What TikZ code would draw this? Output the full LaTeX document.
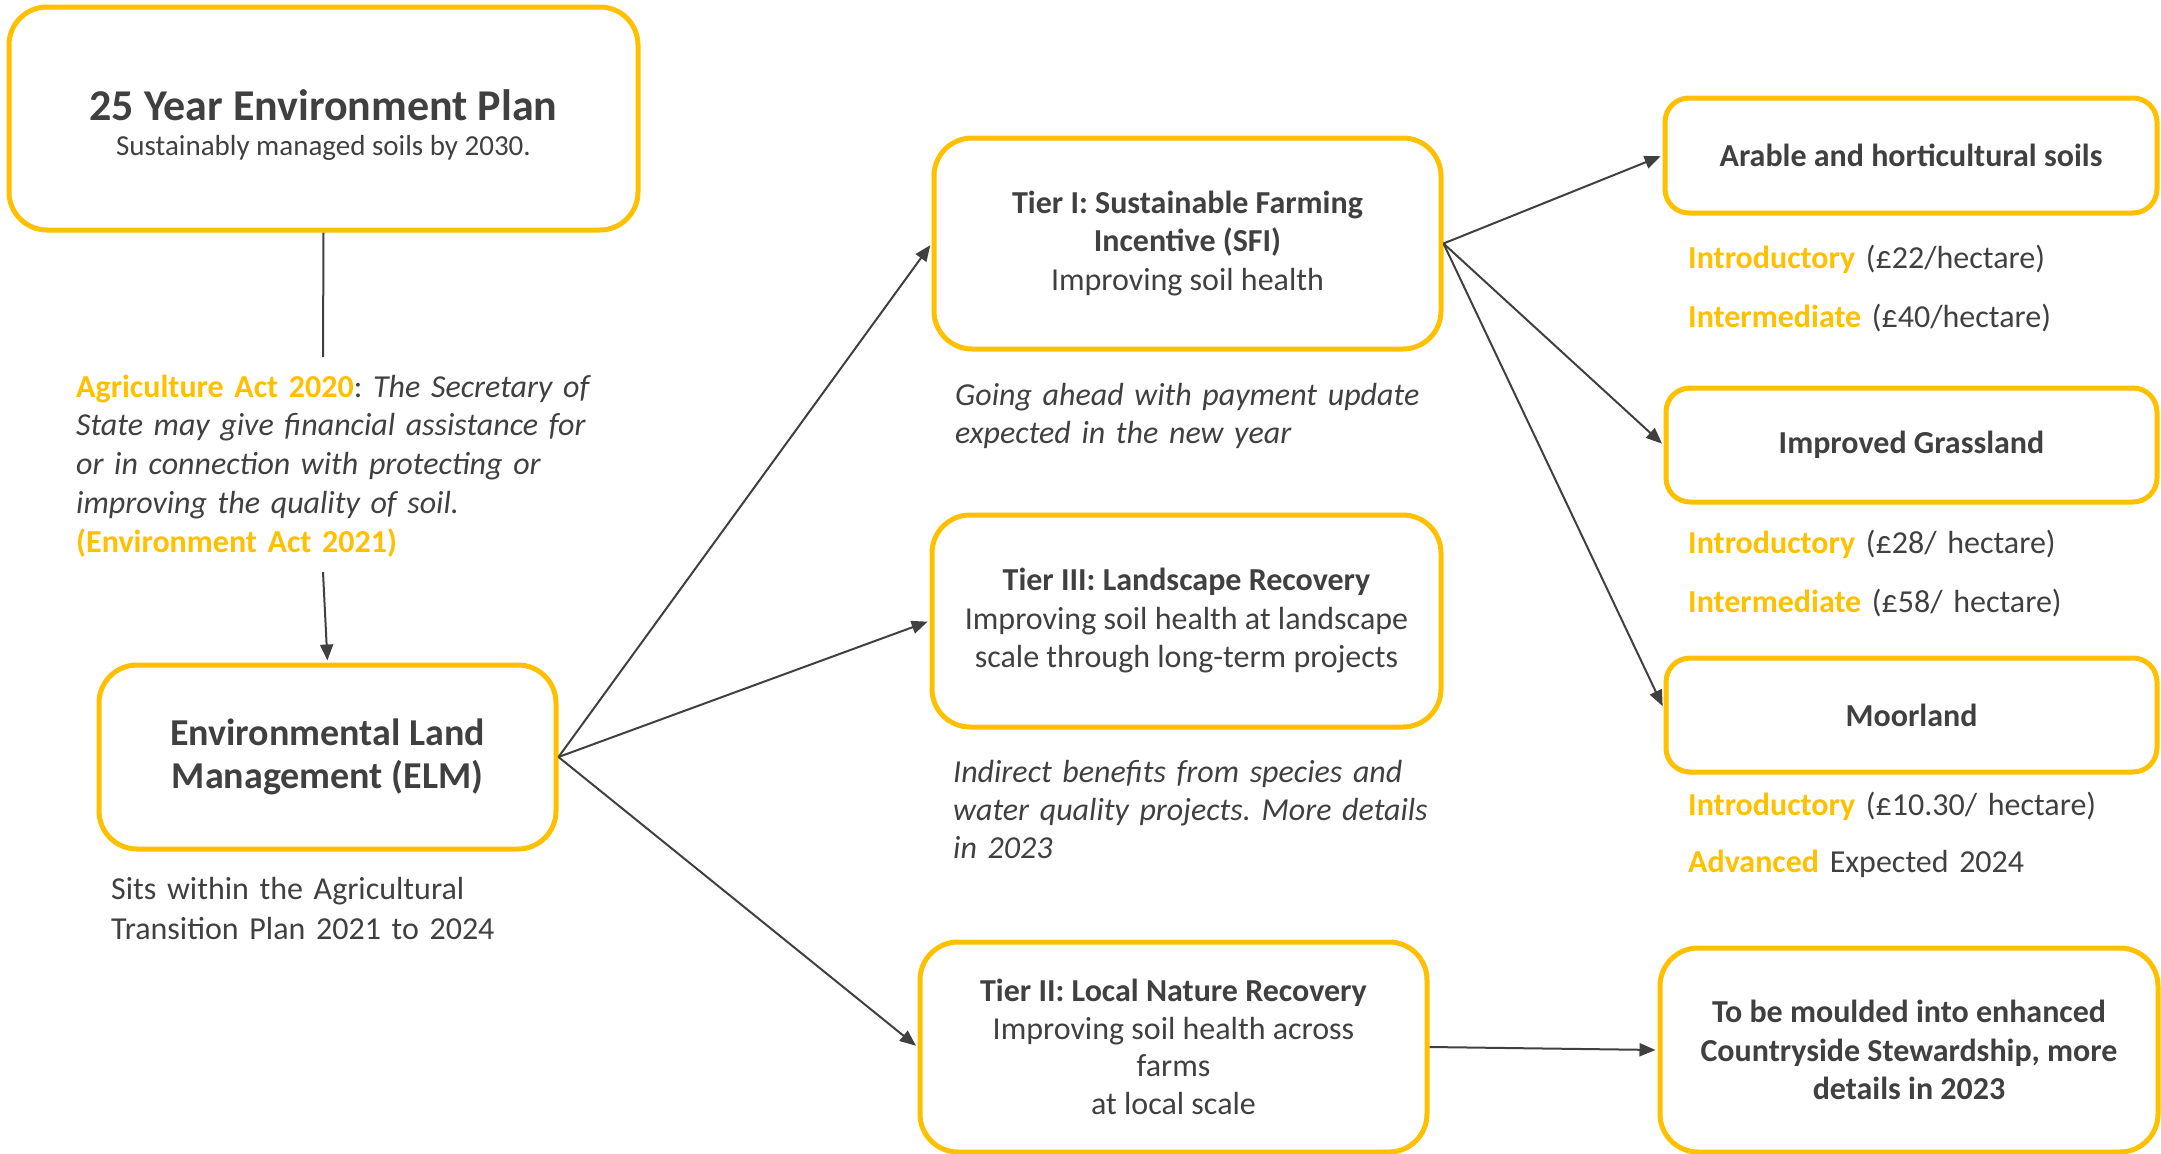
\documentclass[tikz,border=0pt]{standalone}
\usepackage{fontspec}
\setmainfont{Carlito}
\frenchspacing
\usetikzlibrary{arrows.meta}
\definecolor{yel}{HTML}{FFC000}
\definecolor{ink}{HTML}{404040}
\begin{document}
\begin{tikzpicture}[x=1pt,y=-1pt,
  box/.style={draw=yel, line width=5pt, rounded corners=38pt, fill=white, text=ink,
    align=center, inner sep=0pt, font=\fontsize{32}{38.5}\selectfont},
  smallbox/.style={box, rounded corners=24pt, font=\fontsize{32}{38.5}\selectfont\bfseries},
  conn/.style={draw=ink, line width=2pt, shorten >=2pt, -{Triangle[length=16pt,width=13pt]}},
  plainline/.style={draw=ink, line width=2pt},
  note/.style={text=ink, anchor=base west, inner sep=0pt, align=left, text width=#1},
  note/.default=600pt,
]
\useasboundingbox (0,0) rectangle (2161,1154);

% left column
\node[box, minimum width=629pt, minimum height=223pt] (b1) at (323.5,118.5) {};
\node[text=ink, inner sep=0pt, anchor=base, font=\fontsize{44}{52}\selectfont\bfseries] (b1t) at (323.5,120) {25 Year Environment Plan};
\node[text=ink, inner sep=0pt, anchor=base, font=\fontsize{29}{35}\selectfont] (b1s) at (323.5,155) {Sustainably managed soils by 2030.};

\node[note, font=\fontsize{32}{38.8}\selectfont] (agri) at (76,397)
  {{\color{yel}\bfseries Agriculture Act 2020}: \textit{The Secretary of}\\
   \textit{State may give financial assistance for}\\
   \textit{or in connection with protecting or}\\
   \textit{improving the quality of soil.}\\
   {\color{yel}\bfseries (Environment Act 2021)}};

\node[box, minimum width=457pt, minimum height=184pt, font=\fontsize{38}{43}\selectfont\bfseries] (elm) at (327.5,757)
  {Environmental Land\\Management (ELM)};

\node[note, font=\fontsize{32}{40}\selectfont] (sits) at (111,899)
  {Sits within the Agricultural\\Transition Plan 2021 to 2024};

% middle column
\node[box, minimum width=507pt, minimum height=211pt] (t1) at (1187.5,243.5)
  {\textbf{Tier I: Sustainable Farming}\\\textbf{Incentive (SFI)}\\Improving soil health};
\node[note, font=\fontsize{32}{38.5}\selectfont\itshape] (t1n) at (955,405)
  {Going ahead with payment update\\expected in the new year};

\node[box, minimum width=509pt, minimum height=212pt] (t3) at (1186.5,621)
  {\textbf{Tier III: Landscape Recovery}\\Improving soil health at landscape\\scale through long-term projects};
\node[note, font=\fontsize{32}{38.2}\selectfont\itshape] (t3n) at (953,782)
  {Indirect benefits from species and\\water quality projects. More details\\in 2023};

\node[box, minimum width=507pt, minimum height=210pt, font=\fontsize{32}{37.5}\selectfont] (t2) at (1173.5,1047)
  {\textbf{Tier II: Local Nature Recovery}\\Improving soil health across\\farms\\at local scale};

% right column
\node[smallbox, minimum width=492pt, minimum height=115pt] (ar) at (1911,155.5) {Arable and horticultural soils};
\node[note, font=\fontsize{32}{59}\selectfont] (arn) at (1688,268)
  {{\color{yel}\bfseries Introductory} (£22/hectare)\\{\color{yel}\bfseries Intermediate} (£40/hectare)};

\node[smallbox, minimum width=491pt, minimum height=114pt] (gr) at (1911.5,445) {Improved Grassland};
\node[note, font=\fontsize{32}{59}\selectfont] (grn) at (1688,553)
  {{\color{yel}\bfseries Introductory} (£28/ hectare)\\{\color{yel}\bfseries Intermediate} (£58/ hectare)};

\node[smallbox, minimum width=491pt, minimum height=114pt] (mo) at (1911.5,715) {Moorland};
\node[note, font=\fontsize{32}{57}\selectfont] (mon) at (1688,815)
  {{\color{yel}\bfseries Introductory} (£10.30/ hectare)\\{\color{yel}\bfseries Advanced} Expected 2024};

\node[box, minimum width=498pt, minimum height=204pt, font=\fontsize{32}{38.5}\selectfont\bfseries] (tbm) at (1909,1050)
  {To be moulded into enhanced\\Countryside Stewardship, more\\details in 2023};

% connectors
\coordinate (c1) at (323,357);
\coordinate (c2) at (323,572);
\draw[plainline] (b1.south) -- (c1);
\draw[conn] (c2) -- (elm.north);
\draw[conn] (elm.east) -- (t1.west);
\draw[conn] (elm.east) -- (t3.west);
\draw[conn] (elm.east) -- (t2.west);
\draw[conn] (t1.east) -- (ar.west);
\draw[conn] (t1.east) -- (gr.west);
\draw[conn] (t1.east) -- ([yshift=7pt]mo.west);
\draw[conn] (t2.east) -- (tbm.west);
\end{tikzpicture}
\end{document}
